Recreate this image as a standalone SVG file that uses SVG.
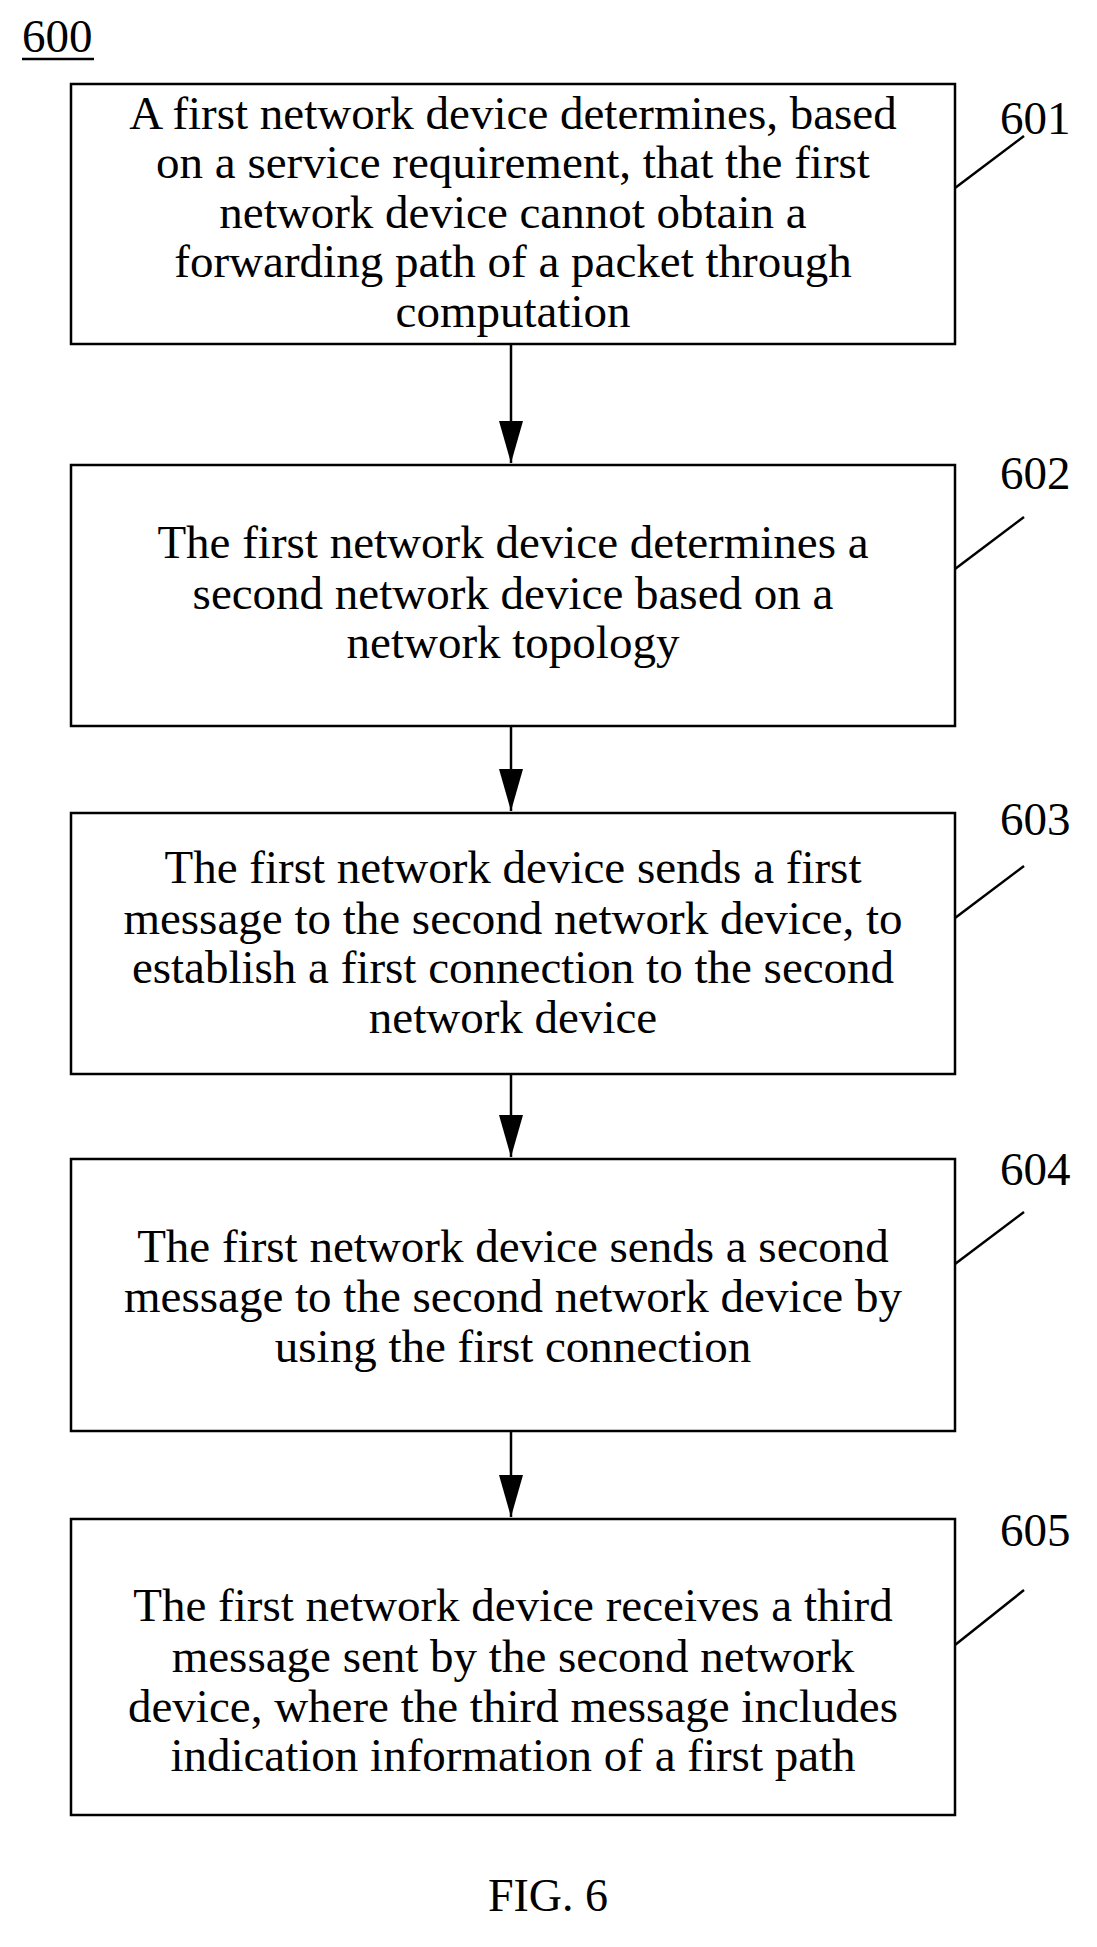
<svg xmlns="http://www.w3.org/2000/svg" width="1097" height="1947" viewBox="0 0 1097 1947">
<style>
text{font-family:"Liberation Serif","Times New Roman",serif;font-size:47px;fill:#000}
.c{text-anchor:middle}
.box{fill:#fff;stroke:#000;stroke-width:2.5}
.ln{stroke:#000;stroke-width:2.5;fill:none}
</style>
<defs><marker id="ah" markerWidth="42" markerHeight="24" refX="10" refY="5" orient="auto" markerUnits="userSpaceOnUse" viewBox="0 0 10 10" preserveAspectRatio="none"><path d="M0,0 L10,5 L0,10 Z" fill="#000"/></marker></defs>
<rect width="1097" height="1947" fill="#fff"/>
<g id="label600"><text x="22" y="52">600</text><line x1="22" y1="59" x2="94" y2="59" class="ln" stroke-width="2"/></g>
<g id="connectors">
<line x1="511" y1="344" x2="511" y2="463" class="ln" marker-end="url(#ah)"/>
<line x1="511" y1="726" x2="511" y2="811" class="ln" marker-end="url(#ah)"/>
<line x1="511" y1="1074" x2="511" y2="1157" class="ln" marker-end="url(#ah)"/>
<line x1="511" y1="1431" x2="511" y2="1517" class="ln" marker-end="url(#ah)"/>
</g>
<g id="n601"><rect class="box" x="71" y="84" width="884" height="260"/>
<text class="c" x="513" y="129">A first network device determines, based</text>
<text class="c" x="513" y="178">on a service requirement, that the first</text>
<text class="c" x="513" y="228">network device cannot obtain a</text>
<text class="c" x="513" y="277">forwarding path of a packet through</text>
<text class="c" x="513" y="327">computation</text>
<text x="1000" y="134">601</text><line class="ln" x1="955" y1="188" x2="1024" y2="136"/></g>
<g id="n602"><rect class="box" x="71" y="465" width="884" height="261"/>
<text class="c" x="513" y="558">The first network device determines a</text>
<text class="c" x="513" y="609">second network device based on a</text>
<text class="c" x="513" y="658">network topology</text>
<text x="1000" y="489">602</text><line class="ln" x1="955" y1="569" x2="1024" y2="517"/></g>
<g id="n603"><rect class="box" x="71" y="813" width="884" height="261"/>
<text class="c" x="513" y="883">The first network device sends a first</text>
<text class="c" x="513" y="934">message to the second network device, to</text>
<text class="c" x="513" y="983">establish a first connection to the second</text>
<text class="c" x="513" y="1033">network device</text>
<text x="1000" y="835">603</text><line class="ln" x1="955" y1="918" x2="1024" y2="866"/></g>
<g id="n604"><rect class="box" x="71" y="1159" width="884" height="272"/>
<text class="c" x="513" y="1262">The first network device sends a second</text>
<text class="c" x="513" y="1312">message to the second network device by</text>
<text class="c" x="513" y="1362">using the first connection</text>
<text x="1000" y="1185">604</text><line class="ln" x1="955" y1="1264" x2="1024" y2="1212"/></g>
<g id="n605"><rect class="box" x="71" y="1519" width="884" height="296"/>
<text class="c" x="513" y="1621">The first network device receives a third</text>
<text class="c" x="513" y="1672">message sent by the second network</text>
<text class="c" x="513" y="1722">device, where the third message includes</text>
<text class="c" x="513" y="1771">indication information of a first path</text>
<text x="1000" y="1546">605</text><line class="ln" x1="955" y1="1645" x2="1024" y2="1590"/></g>
<text class="c" x="548" y="1911" style="font-size:46px">FIG. 6</text>
</svg>
